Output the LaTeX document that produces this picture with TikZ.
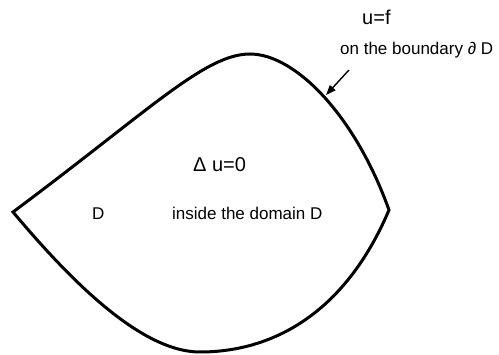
\documentclass[tikz,border=0pt]{standalone}
\usepackage{fontspec}
\setmainfont{Liberation Sans}
\usetikzlibrary{arrows.meta}
\begin{document}
\begin{tikzpicture}[x=1pt,y=-1pt,
  boundary/.style={line width=3pt,line join=miter,draw=black},
  bigtext/.style={inner sep=0pt,anchor=base west,font=\fontsize{20}{23}\selectfont},
  smalltext/.style={inner sep=0pt,anchor=base west,font=\fontsize{17}{20}\selectfont},
  pointer/.style={line width=1.4pt,-{Triangle[length=10pt,width=7.5pt]}}]
\useasboundingbox (0,0) rectangle (499,355);

% the domain D and its boundary
\coordinate (left) at (13,212);
\coordinate (top) at (250,54);
\coordinate (right) at (389,210);
\coordinate (bottom) at (200,352);
\draw[boundary] (left)
  .. controls (150,110) and (205,54) .. (top)
  .. controls (295,54) and (355,115) .. (right)
  .. controls (344,316) and (270,352) .. (bottom)
  .. controls (140,352) and (68,277.5) .. cycle;

% labels
\node[bigtext] (bc) at (362,25) {u=f};
\node[smalltext] (bdry) at (340,55) {on the boundary ∂ D};
\node[bigtext] (lap) at (193,172) {Δ u=0};
\node[smalltext] (dom) at (92,220) {D};
\node[smalltext] (inside) at (172,220) {inside the domain D};

% arrow to the boundary
\coordinate (tail) at (349,70);
\coordinate (tip) at (326,95);
\draw[pointer] (tail) -- (tip);
\end{tikzpicture}
\end{document}
